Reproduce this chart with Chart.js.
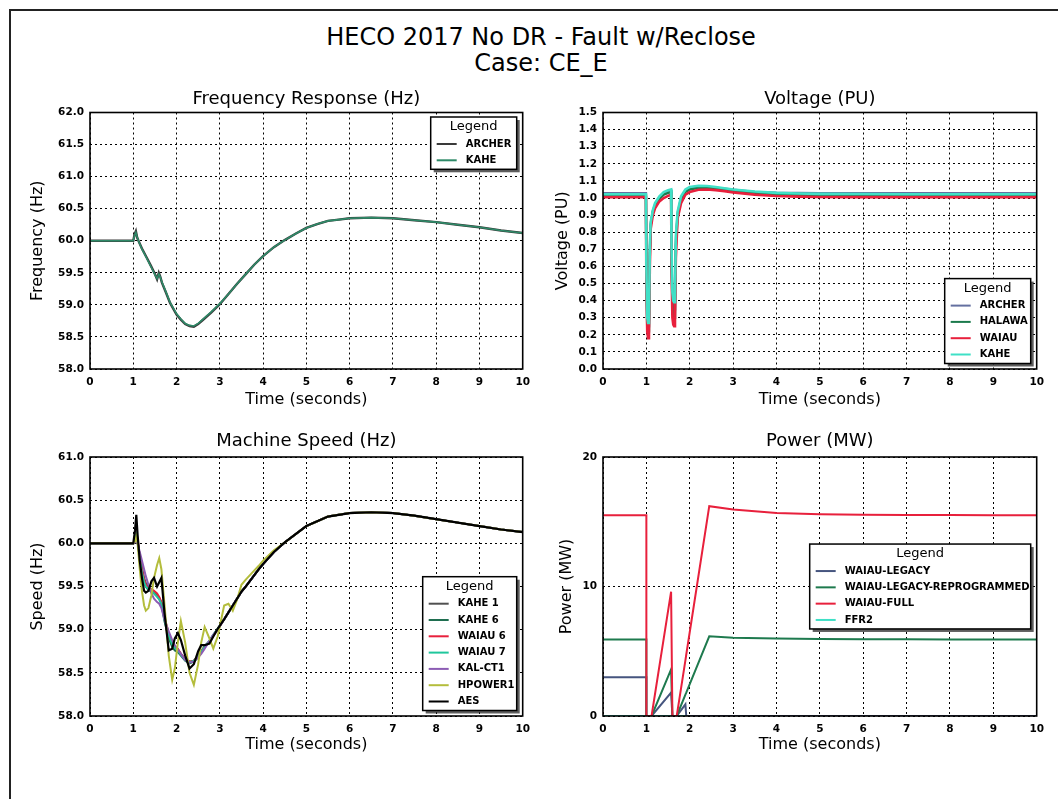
<!DOCTYPE html>
<html>
<head>
<meta charset="utf-8">
<script src="https://cdn.jsdelivr.net/npm/chart.js@4.4.1/dist/chart.umd.min.js"></script>
<style>
  html, body { margin: 0; padding: 0; background: #fff; }
  body { width: 1058px; height: 799px; position: relative; overflow: hidden; font-family: "DejaVu Sans", sans-serif; }
  #page { position: absolute; left: 9px; top: 9px; width: 1100px; height: 900px; border: 2px solid #222; box-sizing: border-box; }
  #main { position: absolute; left: 41px; top: 24px; width: 1000px; text-align: center; font-size: 24px; line-height: 26px; color: #000; }
  canvas { position: absolute; }
</style>
</head>
<body>
<div id="page"></div>
<div id="main">HECO 2017 No DR - Fault w/Reclose<br>Case: CE_E</div>
<canvas id="cFreq" width="517" height="335" style="left:20px;top:80px"></canvas>
<canvas id="cVolt" width="518" height="335" style="left:533px;top:80px"></canvas>
<canvas id="cSpeed" width="517" height="337" style="left:20px;top:425px"></canvas>
<canvas id="cPower" width="518" height="337" style="left:533px;top:425px"></canvas>
<script>
// ---------------- DATA ----------------
const timeTicks = [0, 1, 2, 3, 4, 5, 6, 7, 8, 9, 10];
const freqTicks = [58.0, 58.5, 59.0, 59.5, 60.0, 60.5, 61.0, 61.5, 62.0];
const voltTicks = [0.0, 0.1, 0.2, 0.3, 0.4, 0.5, 0.6, 0.7, 0.8, 0.9, 1.0, 1.1, 1.2, 1.3, 1.4, 1.5];
const speedTicks = [58.0, 58.5, 59.0, 59.5, 60.0, 60.5, 61.0];
const powerTicks = [0, 10, 20];

// Frequency Response (Hz)
const timeFreq = [0, 0.5, 1.0, 1.03, 1.06, 1.09, 1.12, 1.2, 1.3, 1.4, 1.5, 1.55, 1.59, 1.62, 1.66, 1.75, 1.85, 2.0, 2.1, 2.2, 2.3, 2.4, 2.5, 2.6, 2.8, 3.0, 3.2, 3.4, 3.6, 3.8, 4.0, 4.25, 4.5, 4.75, 5.0, 5.25, 5.5, 5.75, 6.0, 6.5, 7.0, 7.5, 8.0, 8.5, 9.0, 9.5, 10];
const freqArcher = [60.0, 60.0, 60.0, 60.1, 60.15, 60.05, 60.0, 59.88, 59.75, 59.62, 59.48, 59.4, 59.5, 59.45, 59.35, 59.2, 59.03, 58.85, 58.77, 58.7, 58.67, 58.66, 58.7, 58.76, 58.88, 59.01, 59.17, 59.33, 59.48, 59.63, 59.76, 59.9, 60.01, 60.11, 60.2, 60.26, 60.31, 60.33, 60.35, 60.36, 60.35, 60.32, 60.29, 60.25, 60.21, 60.16, 60.12];
const freqKahe = [60.0, 60.0, 60.0, 60.08, 60.13, 60.06, 60.0, 59.87, 59.74, 59.61, 59.47, 59.41, 59.48, 59.44, 59.36, 59.21, 59.04, 58.86, 58.78, 58.71, 58.68, 58.67, 58.71, 58.77, 58.89, 59.02, 59.17, 59.33, 59.48, 59.63, 59.76, 59.9, 60.01, 60.11, 60.2, 60.26, 60.31, 60.33, 60.35, 60.36, 60.35, 60.32, 60.29, 60.25, 60.21, 60.16, 60.12];

// Voltage (PU)
const timeVolt = [0, 0.99, 1.0, 1.02, 1.04, 1.06, 1.08, 1.1, 1.15, 1.2, 1.3, 1.4, 1.5, 1.57, 1.58, 1.6, 1.62, 1.64, 1.66, 1.68, 1.72, 1.8, 1.9, 2.0, 2.2, 2.4, 2.6, 2.8, 3.0, 3.5, 4.0, 4.5, 5.0, 6.0, 7.0, 8.0, 9.0, 10];
const voltArcher = [1.028, 1.028, 0.58, 0.28, 0.25, 0.26, 0.7, 0.85, 0.925, 0.96, 1.0, 1.028, 1.04, 1.045, 0.7, 0.42, 0.36, 0.35, 0.38, 0.75, 0.91, 1.0, 1.045, 1.06, 1.068, 1.066, 1.06, 1.054, 1.048, 1.036, 1.031, 1.029, 1.028, 1.028, 1.028, 1.028, 1.028, 1.028];
const voltHalawa = [1.015, 1.015, 0.55, 0.25, 0.22, 0.24, 0.66, 0.84, 0.92, 0.955, 0.995, 1.02, 1.03, 1.035, 0.66, 0.38, 0.32, 0.3, 0.33, 0.72, 0.9, 0.99, 1.035, 1.05, 1.06, 1.06, 1.055, 1.048, 1.042, 1.03, 1.022, 1.018, 1.016, 1.015, 1.015, 1.015, 1.015, 1.015];
const voltWaiau = [1.005, 1.005, 0.5, 0.22, 0.18, 0.2, 0.6, 0.82, 0.9, 0.94, 0.98, 1.0, 1.012, 1.02, 0.6, 0.3, 0.26, 0.25, 0.28, 0.65, 0.88, 0.97, 1.02, 1.035, 1.048, 1.05, 1.046, 1.04, 1.033, 1.02, 1.012, 1.008, 1.006, 1.005, 1.005, 1.005, 1.005, 1.005];
const voltKahe = [1.022, 1.022, 0.6, 0.3, 0.27, 0.28, 0.72, 0.86, 0.93, 0.97, 1.01, 1.035, 1.045, 1.05, 0.72, 0.45, 0.4, 0.39, 0.41, 0.78, 0.92, 1.01, 1.05, 1.065, 1.072, 1.07, 1.064, 1.057, 1.05, 1.038, 1.03, 1.026, 1.024, 1.023, 1.022, 1.022, 1.022, 1.022];

// Machine Speed (Hz)
const timeSpeed = [0, 1.0, 1.04, 1.07, 1.1, 1.15, 1.2, 1.25, 1.29, 1.35, 1.42, 1.48, 1.55, 1.6, 1.65, 1.72, 1.82, 1.9, 1.96, 2.03, 2.1, 2.2, 2.3, 2.4, 2.5, 2.57, 2.65, 2.76, 2.85, 2.95, 3.1, 3.2, 3.3, 3.4, 3.5, 3.6, 3.75, 3.9, 4.0, 4.25, 4.5, 5.0, 5.5, 6.0, 6.5, 7.0, 7.5, 8.0, 8.5, 9.0, 9.5, 10];
const speedKahe1 = [60.0, 60.0, 60.02, 60.06, 60.01, 59.86, 59.72, 59.6, 59.54, 59.49, 59.46, 59.43, 59.4, 59.37, 59.31, 59.13, 58.94, 58.84, 58.79, 58.77, 58.72, 58.66, 58.63, 58.64, 58.69, 58.75, 58.81, 58.87, 58.94, 59.01, 59.12, 59.2, 59.28, 59.36, 59.44, 59.5, 59.6, 59.7, 59.76, 59.9, 60.01, 60.2, 60.31, 60.35, 60.36, 60.35, 60.32, 60.28, 60.24, 60.2, 60.16, 60.13];
const speedKahe6 = [60.0, 60.0, 60.03, 60.08, 60.02, 59.84, 59.68, 59.56, 59.5, 59.46, 59.44, 59.42, 59.39, 59.36, 59.3, 59.1, 58.9, 58.8, 58.76, 58.74, 58.7, 58.64, 58.61, 58.63, 58.68, 58.74, 58.8, 58.86, 58.93, 59.0, 59.12, 59.2, 59.28, 59.36, 59.44, 59.5, 59.6, 59.7, 59.76, 59.9, 60.01, 60.2, 60.31, 60.35, 60.36, 60.35, 60.32, 60.28, 60.24, 60.2, 60.16, 60.13];
const speedWaiau6 = [60.0, 60.0, 60.05, 60.12, 60.05, 59.85, 59.7, 59.58, 59.52, 59.48, 59.47, 59.45, 59.42, 59.38, 59.32, 59.15, 58.95, 58.85, 58.8, 58.78, 58.72, 58.66, 58.63, 58.64, 58.7, 58.75, 58.8, 58.86, 58.93, 59.0, 59.12, 59.2, 59.28, 59.36, 59.44, 59.5, 59.6, 59.7, 59.76, 59.9, 60.01, 60.2, 60.31, 60.35, 60.36, 60.35, 60.32, 60.28, 60.24, 60.2, 60.16, 60.13];
const speedWaiau7 = [60.0, 60.0, 60.04, 60.1, 60.02, 59.82, 59.66, 59.55, 59.5, 59.47, 59.45, 59.42, 59.38, 59.35, 59.3, 59.12, 58.93, 58.83, 58.79, 58.76, 58.71, 58.65, 58.62, 58.64, 58.69, 58.74, 58.8, 58.87, 58.94, 59.01, 59.12, 59.2, 59.28, 59.36, 59.44, 59.5, 59.6, 59.7, 59.76, 59.9, 60.01, 60.2, 60.31, 60.35, 60.36, 60.35, 60.32, 60.28, 60.24, 60.2, 60.16, 60.13];
const speedKalCt1 = [60.0, 60.0, 60.01, 60.03, 60.0, 59.9, 59.8, 59.7, 59.62, 59.52, 59.42, 59.36, 59.32, 59.3, 59.25, 59.12, 58.98, 58.88, 58.82, 58.77, 58.72, 58.65, 58.62, 58.63, 58.68, 58.72, 58.78, 58.87, 58.94, 59.0, 59.12, 59.2, 59.28, 59.36, 59.44, 59.5, 59.6, 59.7, 59.76, 59.9, 60.01, 60.2, 60.31, 60.35, 60.36, 60.35, 60.32, 60.28, 60.24, 60.2, 60.16, 60.13];
const speedHpower1 = [60.0, 60.0, 60.02, 60.08, 60.0, 59.7, 59.45, 59.28, 59.22, 59.25, 59.4, 59.6, 59.75, 59.83, 59.7, 59.3, 58.7, 58.42, 58.55, 58.85, 59.1, 58.85, 58.5, 58.36, 58.6, 58.85, 59.03, 58.9, 58.78, 58.92, 59.28, 59.3, 59.22, 59.35, 59.52, 59.58, 59.66, 59.74, 59.8, 59.92, 60.01, 60.2, 60.31, 60.35, 60.36, 60.35, 60.32, 60.28, 60.24, 60.2, 60.16, 60.13];
const speedAes = [60.0, 60.0, 60.15, 60.33, 60.1, 59.8, 59.6, 59.45, 59.43, 59.45, 59.56, 59.6, 59.5, 59.55, 59.6, 59.2, 58.76, 58.78, 58.9, 58.96, 58.88, 58.7, 58.55, 58.6, 58.75, 58.82, 58.82, 58.84, 58.92, 59.01, 59.12, 59.2, 59.28, 59.36, 59.44, 59.5, 59.6, 59.7, 59.76, 59.9, 60.01, 60.2, 60.31, 60.35, 60.36, 60.35, 60.32, 60.28, 60.24, 60.2, 60.16, 60.13];

// Power (MW)
const timePower = [0, 1.0, 1.0, 1.12, 1.57, 1.6, 1.7, 1.9, 1.92, 2.45, 3.0, 4.0, 5.0, 6.0, 7.0, 8.0, 9.0, 10];
const powerLegacy = [3.0, 3.0, 0, 0, 1.8, 0, 0, 0.9, 0, 0, 0, 0, 0, 0, 0, 0, 0, 0];
const powerLegacyReprog = [5.9, 5.9, 0, 0, 3.6, 0, 0, 1.65, 1.8, 6.15, 6.05, 5.98, 5.95, 5.93, 5.92, 5.91, 5.9, 5.9];
const powerFull = [15.5, 15.5, 0, 0, 9.6, 0, 0, 4.3, 4.75, 16.2, 15.95, 15.68, 15.58, 15.55, 15.53, 15.52, 15.51, 15.5];
const powerFfr2 = [0, 0, 0, 0, 0, 0, 0, 0, 0, 0, 0, 0, 0, 0, 0, 0, 0, 0];

// ---------------- RENDERING ----------------
const FONT = '"DejaVu Sans", sans-serif';
const pts = (t, v) => t.map((x, i) => ({ x: x, y: v[i] }));

const framePlugin = {
  id: 'frame',
  afterDatasetsDraw(chart) {
    const { ctx, chartArea: a } = chart;
    ctx.save();
    ctx.setLineDash([]);
    ctx.strokeStyle = '#000';
    ctx.lineWidth = 1.6;
    ctx.strokeRect(a.left, a.top, a.right - a.left, a.bottom - a.top);
    ctx.restore();
  }
};

const boxLegend = {
  id: 'boxLegend',
  afterDatasetsDraw(chart, args, opts) {
    const { ctx, chartArea: a } = chart;
    const items = chart.data.datasets.map(d => ({ label: d.label, color: d.borderColor }));
    const rowH = 16.3, titleY = 10, firstRowY = 27;
    const w = opts.width;
    const h = firstRowY + (items.length - 1) * rowH + 9;
    const x = a.right - 6 - w;
    let y;
    if (opts.vpos === 'top') y = a.top + 4.5;
    else if (opts.vpos === 'bottom') y = a.bottom - 5.5 - h;
    else y = (a.top + a.bottom) / 2 - h / 2;
    ctx.save();
    ctx.setLineDash([]);
    ctx.fillStyle = 'rgba(40,40,40,0.75)';
    ctx.fillRect(x + 3, y + 3, w, h);
    ctx.fillStyle = '#fff';
    ctx.fillRect(x, y, w, h);
    ctx.strokeStyle = '#000';
    ctx.lineWidth = 1.5;
    ctx.strokeRect(x, y, w, h);
    ctx.fillStyle = '#000';
    ctx.textAlign = 'center';
    ctx.textBaseline = 'middle';
    ctx.font = '13px ' + FONT;
    ctx.fillText('Legend', x + w / 2, y + titleY);
    ctx.textAlign = 'left';
    ctx.font = 'bold 10px ' + FONT;
    items.forEach((it, i) => {
      const cy = y + firstRowY + i * rowH;
      ctx.strokeStyle = it.color;
      ctx.lineWidth = 2;
      ctx.beginPath();
      ctx.moveTo(x + 6, cy);
      ctx.lineTo(x + 26, cy);
      ctx.stroke();
      ctx.fillStyle = '#000';
      ctx.fillText(it.label, x + 35, cy);
    });
    ctx.restore();
  }
};

function makeScales(yTicks, fmt, yTitle, yTitlePad, xTitlePad) {
  const dash = [2, 3];
  const tickFont = { family: FONT, size: 10.5, weight: 'bold' };
  return {
    x: {
      type: 'linear', min: 0, max: 10,
      afterBuildTicks: s => { s.ticks = timeTicks.map(v => ({ value: v })); },
      afterFit: s => { s.height = 46; },
      ticks: { font: tickFont, color: '#000', padding: 7, maxRotation: 0, autoSkip: false, callback: v => String(v) },
      grid: { color: '#000', lineWidth: 1, drawTicks: false, borderDash: dash },
      border: { display: false, dash: dash },
      title: { display: true, text: 'Time (seconds)', color: '#000', font: { family: FONT, size: 16 }, padding: { top: 0, bottom: xTitlePad } }
    },
    y: {
      type: 'linear', min: yTicks[0], max: yTicks[yTicks.length - 1],
      afterBuildTicks: s => { s.ticks = yTicks.map(v => ({ value: v })); },
      afterFit: s => { s.width = 70; },
      ticks: { font: tickFont, color: '#000', padding: 6, autoSkip: false, callback: fmt },
      grid: { color: '#000', lineWidth: 1, drawTicks: false, borderDash: dash },
      border: { display: false, dash: dash },
      title: { display: true, text: yTitle, color: '#000', font: { family: FONT, size: 16 }, padding: { top: yTitlePad, bottom: 0 } }
    }
  };
}

function makeChart(id, title, titlePad, datasets, scales, legendOpts) {
  return new Chart(document.getElementById(id), {
    type: 'line',
    data: { datasets: datasets },
    options: {
      responsive: false,
      animation: false,
      devicePixelRatio: 1,
      layout: { padding: { left: 0, right: 12, top: 0, bottom: 0 } },
      elements: { point: { radius: 0 }, line: { tension: 0, borderWidth: 2 } },
      plugins: {
        legend: { display: false },
        tooltip: { enabled: false },
        title: { display: true, text: title, fullSize: false, color: '#000', font: { family: FONT, size: 18, weight: 'normal' }, padding: titlePad },
        boxLegend: legendOpts
      },
      scales: scales
    },
    plugins: [framePlugin, boxLegend]
  });
}

const f1 = v => Number(v).toFixed(1);

makeChart('cFreq', 'Frequency Response (Hz)', { top: 8.2, bottom: 2.7 }, [
  { label: 'ARCHER', data: pts(timeFreq, freqArcher), borderColor: '#3a3a3a', borderWidth: 2.4, order: 1 },
  { label: 'KAHE', data: pts(timeFreq, freqKahe), borderColor: '#2e8a68', borderWidth: 1.6, order: 0 }
], makeScales(freqTicks, f1, 'Frequency (Hz)', 8.4, 5.4), { width: 86, vpos: 'top' });

makeChart('cVolt', 'Voltage (PU)', { top: 8.2, bottom: 2.7 }, [
  { label: 'ARCHER', data: pts(timeVolt, voltArcher), borderColor: '#6470a0', borderWidth: 2.4, order: 3 },
  { label: 'HALAWA', data: pts(timeVolt, voltHalawa), borderColor: '#1b7a4c', borderWidth: 2.4, order: 2 },
  { label: 'WAIAU', data: pts(timeVolt, voltWaiau), borderColor: '#e8203c', borderWidth: 2.6, order: 1 },
  { label: 'KAHE', data: pts(timeVolt, voltKahe), borderColor: '#3fe0c6', borderWidth: 2.6, order: 0 }
], makeScales(voltTicks, f1, 'Voltage (PU)', 20.4, 5.4), { width: 86, vpos: 'bottom' });

makeChart('cSpeed', 'Machine Speed (Hz)', { top: 5.2, bottom: 5.2 }, [
  { label: 'KAHE 1', data: pts(timeSpeed, speedKahe1), borderColor: '#505050', order: 6 },
  { label: 'KAHE 6', data: pts(timeSpeed, speedKahe6), borderColor: '#1f6e50', order: 5 },
  { label: 'WAIAU 6', data: pts(timeSpeed, speedWaiau6), borderColor: '#e8203c', order: 4 },
  { label: 'WAIAU 7', data: pts(timeSpeed, speedWaiau7), borderColor: '#1fc79c', order: 3 },
  { label: 'KAL-CT1', data: pts(timeSpeed, speedKalCt1), borderColor: '#8c5cb4', order: 2 },
  { label: 'HPOWER1', data: pts(timeSpeed, speedHpower1), borderColor: '#b4bd3c', order: 1 },
  { label: 'AES', data: pts(timeSpeed, speedAes), borderColor: '#000000', borderWidth: 2.2, order: 0 }
], makeScales(speedTicks, f1, 'Speed (Hz)', 8.4, 7.4), { width: 94, vpos: 'bottom' });

makeChart('cPower', 'Power (MW)', { top: 5.2, bottom: 5.2 }, [
  { label: 'WAIAU-LEGACY', data: pts(timePower, powerLegacy), borderColor: '#46557f', order: 2 },
  { label: 'WAIAU-LEGACY-REPROGRAMMED', data: pts(timePower, powerLegacyReprog), borderColor: '#1e7a4e', order: 1 },
  { label: 'WAIAU-FULL', data: pts(timePower, powerFull), borderColor: '#e8203c', order: 0 },
  { label: 'FFR2', data: pts(timePower, powerFfr2), borderColor: '#3fe0c6', order: 3 }
], makeScales(powerTicks, v => String(v), 'Power (MW)', 24.4, 7.4), { width: 221, vpos: 'center' });
</script>
</body>
</html>
